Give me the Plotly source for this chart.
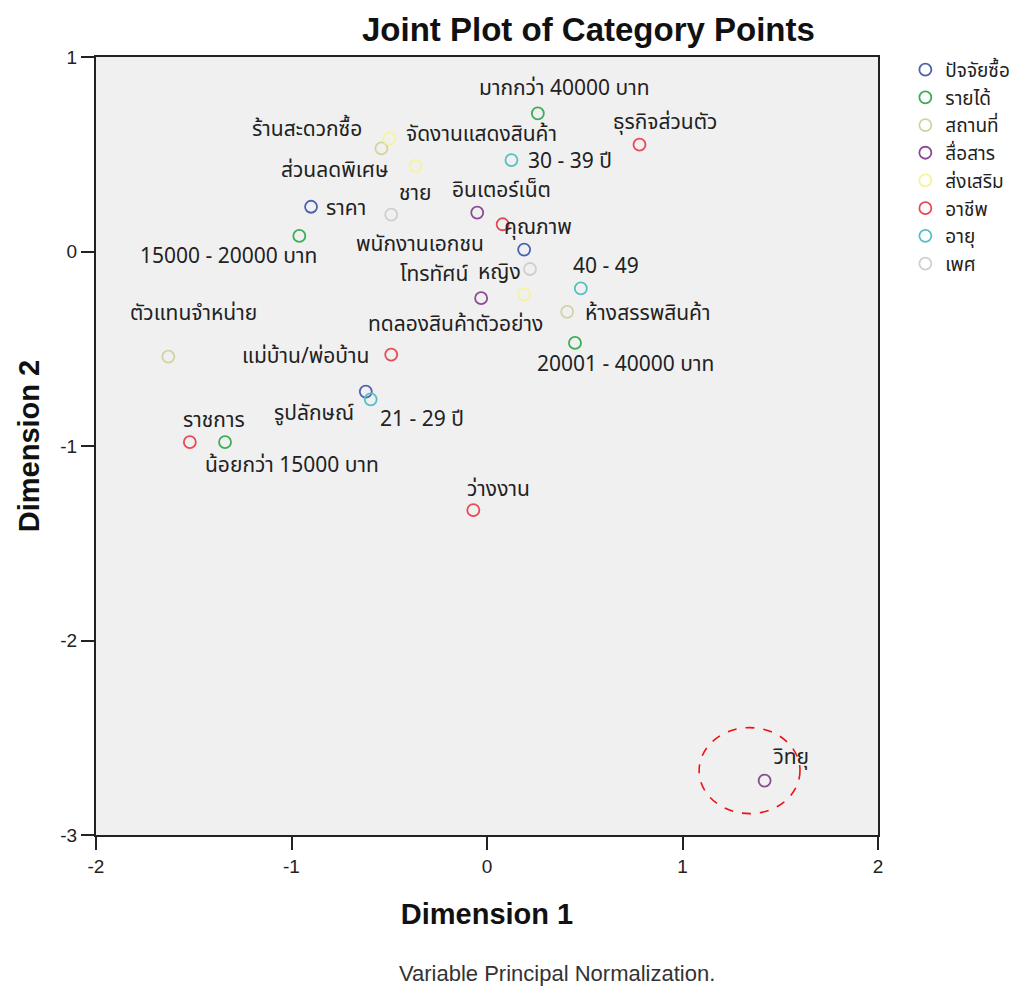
import plotly.graph_objects as go

# ---------------- data ----------------
groups = ["ปัจจัยซื้อ", "รายได้", "สถานที่", "สื่อสาร", "ส่งเสริม", "อาชีพ", "อายุ", "เพศ"]

cat_labels = {
    "ปัจจัยซื้อ": ["ราคา", "คุณภาพ", "รูปลักษณ์"],
    "รายได้": ["15000 - 20000 บาท", "มากกว่า 40000 บาท", "20001 - 40000 บาท", "น้อยกว่า 15000 บาท"],
    "สถานที่": ["ร้านสะดวกซื้อ", "ห้างสรรพสินค้า", "ตัวแทนจำหน่าย"],
    "สื่อสาร": ["อินเตอร์เน็ต", "โทรทัศน์", "วิทยุ"],
    "ส่งเสริม": ["จัดงานแสดงสินค้า", "ส่วนลดพิเศษ", "ทดลองสินค้าตัวอย่าง"],
    "อาชีพ": ["ธุรกิจส่วนตัว", "พนักงานเอกชน", "แม่บ้าน/พ่อบ้าน", "ราชการ", "ว่างงาน"],
    "อายุ": ["30 - 39 ปี", "40 - 49", "21 - 29 ปี"],
    "เพศ": ["ชาย", "หญิง"],
}
dim1 = {
    "ปัจจัยซื้อ": [-0.90, 0.19, -0.62],
    "รายได้": [-0.96, 0.26, 0.45, -1.34],
    "สถานที่": [-0.54, 0.41, -1.63],
    "สื่อสาร": [-0.05, -0.03, 1.42],
    "ส่งเสริม": [-0.50, -0.365, 0.19],
    "อาชีพ": [0.78, 0.08, -0.49, -1.52, -0.07],
    "อายุ": [0.125, 0.48, -0.595],
    "เพศ": [-0.49, 0.22],
}
dim2 = {
    "ปัจจัยซื้อ": [0.23, 0.01, -0.72],
    "รายได้": [0.08, 0.71, -0.47, -0.98],
    "สถานที่": [0.53, -0.31, -0.54],
    "สื่อสาร": [0.20, -0.24, -2.72],
    "ส่งเสริม": [0.58, 0.44, -0.22],
    "อาชีพ": [0.55, 0.14, -0.53, -0.98, -1.33],
    "อายุ": [0.47, -0.19, -0.76],
    "เพศ": [0.19, -0.09],
}
x_ticks = [-2, -1, 0, 1, 2]
y_ticks = [-3, -2, -1, 0, 1]
highlight_label = "วิทยุ"

# ---------------- styles ----------------
colors = {
    "ปัจจัยซื้อ": "#4a62b0",
    "รายได้": "#3aae55",
    "สถานที่": "#d6d1a2",
    "สื่อสาร": "#8a4a93",
    "ส่งเสริม": "#f6f39a",
    "อาชีพ": "#e64a55",
    "อายุ": "#55c0c4",
    "เพศ": "#cfcfcf",
}
# label offsets in screen pixels (dx right, dy down) relative to each point
label_offsets = {
    "ปัจจัยซื้อ": [(35, 2), (14, -22), (-52, 22)],
    "รายได้": [(-71, 21), (26, -25), (51, 22), (67, 23)],
    "สถานที่": [(-74, -19), (81, 2), (25, -43)],
    "สื่อสาร": [(24, -22), (-47, -24), (26, -23)],
    "ส่งเสริม": [(92, -4), (-81, 5), (-69, 30)],
    "อาชีพ": [(26, -22), (-83, 20), (-86, 2), (24, -22), (25, -21)],
    "อายุ": [(59, 1), (25, -22), (51, 20)],
    "เพศ": [(24, -21), (-31, 3)],
}

FONT = "Liberation Sans, Arial, sans-serif"
THAI_FONT = "Tahoma, Noto Sans Thai, Loma, Garuda, DejaVu Sans, sans-serif"

fig = go.Figure()
annotations = []
for g in groups:
    fig.add_trace(go.Scatter(
        x=dim1[g], y=dim2[g], mode="markers", name=g,
        marker=dict(symbol="circle-open", size=12, color=colors[g],
                    line=dict(width=1.8, color=colors[g])),
        hoverinfo="text", text=cat_labels[g],
    ))
    for lab, xv, yv, (dx, dy) in zip(cat_labels[g], dim1[g], dim2[g], label_offsets[g]):
        annotations.append(dict(
            x=xv, y=yv, xref="x", yref="y", text=lab, showarrow=False,
            xshift=dx, yshift=-dy, xanchor="center", yanchor="middle",
            font=dict(family=THAI_FONT, size=21, color="#222222"),
        ))

# dashed highlight circle around the highlighted point
for g in groups:
    if highlight_label in cat_labels[g]:
        i = cat_labels[g].index(highlight_label)
        cx, cy = dim1[g][i] - 0.077, dim2[g][i] + 0.051
        fig.add_shape(type="circle", xref="x", yref="y",
                      x0=cx - 0.258, x1=cx + 0.258, y0=cy - 0.221, y1=cy + 0.221,
                      line=dict(color="#ee1111", width=1.6, dash="dash"))

annotations.append(dict(
    x=0.59, y=0.0, xref="paper", yref="paper", yanchor="bottom",
    text="Variable Principal Normalization.", showarrow=False, yshift=-153,
    font=dict(family=FONT, size=22, color="#333333"),
))
annotations.append(dict(
    xref="paper", yref="paper", x=0.63, y=1.0, yanchor="bottom", yshift=7,
    text="<b>Joint Plot of Category Points</b>", showarrow=False,
    font=dict(family=FONT, size=33, color="#111111"),
))

fig.update_layout(
    width=1025, height=990,
    margin=dict(l=88, r=155, t=49, b=163),
    paper_bgcolor="white", plot_bgcolor="#f0f0f0",
    showlegend=True,
    legend=dict(x=1.035, y=1.008, xanchor="left", yanchor="top",
                font=dict(family=THAI_FONT, size=19, color="#222222"),
                bgcolor="rgba(0,0,0,0)", itemwidth=30, tracegroupgap=0),
    annotations=annotations,
    xaxis=dict(range=[-2, 2], tickvals=x_ticks, ticktext=[str(v) for v in x_ticks],
               showgrid=False, zeroline=False, showline=True, linecolor="#222222",
               linewidth=2, mirror=True, ticks="outside", ticklen=13, tickwidth=2,
               tickcolor="#222222", tickfont=dict(family=FONT, size=19, color="#222222"),
               title=dict(text="<b>Dimension 1</b>", standoff=28,
                          font=dict(family=FONT, size=29, color="#111111"))),
    yaxis=dict(range=[-3, 1], tickvals=y_ticks, ticktext=[str(v) for v in y_ticks],
               showgrid=False, zeroline=False, showline=True, linecolor="#222222",
               linewidth=2, mirror=True, ticks="outside", ticklen=13, tickwidth=2,
               tickcolor="#222222", tickfont=dict(family=FONT, size=19, color="#222222"),
               title=dict(text="<b>Dimension 2</b>", standoff=12,
                          font=dict(family=FONT, size=29, color="#111111"))),
)

fig.write_html("out.html")
